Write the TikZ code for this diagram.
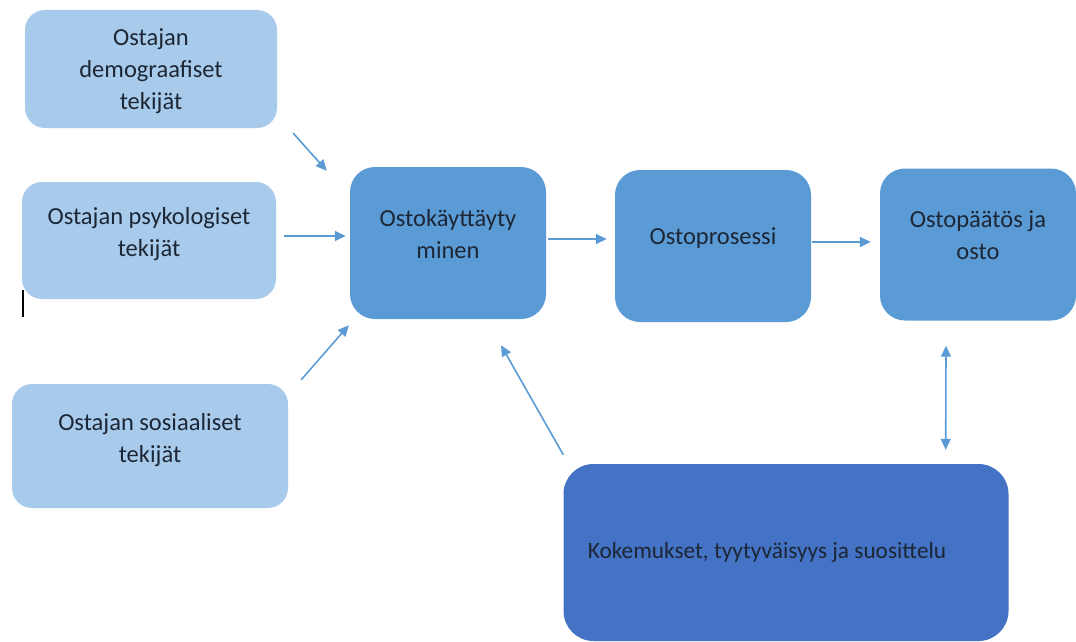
\documentclass[tikz,border=0pt]{standalone}
\usepackage{fontspec}
\setmainfont{Carlito}
\usepackage{tikz}
\usetikzlibrary{
        arrows.meta,
        positioning,
        shapes
    }
\definecolor{lightbox}{HTML}{A9CBEB}
\definecolor{midbox}{HTML}{5B9BD5}
\definecolor{darkbox}{HTML}{4472C4}
\definecolor{arrowblue}{HTML}{5B9BD5}
\definecolor{textdark}{HTML}{1C2635}
\tikzset{>={Triangle[length=11pt,width=10pt]},auto}
\tikzset{
    factor/.style={rectangle,rounded corners=20pt,fill=lightbox,align=center,
        text=textdark,font=\fontsize{24.5}{32}\selectfont,text depth=17pt},
    stage/.style={rectangle,rounded corners=25pt,fill=midbox,align=center,
        text=textdark,font=\fontsize{24.5}{32}\selectfont,text depth=19pt,
        minimum width=196pt,minimum height=152pt},
    result/.style={rectangle,rounded corners=30pt,fill=darkbox,align=center,
        text=textdark,font=\fontsize{23.3}{32}\selectfont},
    link/.style={color=arrowblue,line width=1.6pt}
}

\begin{document}
\begin{tikzpicture}[x=1pt,y=-1pt]
            \useasboundingbox (0,0) rectangle (1076,642);
            \node[factor,text depth=0pt,minimum width=252pt,minimum height=118pt] (demo) at (151,69)
                {Ostajan\\demograafiset\\tekijät};
            \node[factor,minimum width=254pt,minimum height=117pt] (psyk) at (149,240.5)
                {Ostajan psykologiset\\tekijät};
            \node[factor,minimum width=276pt,minimum height=124pt] (sos) at (150,446)
                {Ostajan sosiaaliset\\tekijät};
            \node[stage] (kaytos) at (448,243)   {Ostokäyttäyty\\minen};
            \node[stage] (prosessi) at (713,246) {Ostoprosessi};
            \node[stage] (paatos) at (978,244.5) {Ostopäätös ja\\osto};
            \node[result,minimum width=445pt,minimum height=177pt] (kokemus) at (786,552.5)
                {Kokemukset, tyytyväisyys ja suosittelu\hspace*{38pt}};
            \draw[link,->] ([shift={(16,5)}]demo.south east) -- ([shift={(-23,4)}]kaytos.north west);
            \draw[link,->] ([shift={(8,-4.5)}]psyk.east) -- ([shift={(-4,-7)}]kaytos.west);
            \draw[link,->] ([shift={(13,-4)}]sos.north east) -- ([shift={(-1,6)}]kaytos.south west);
            \draw[link,->] ([shift={(2,-4)}]kaytos.east) -- ([shift={(-8,-7)}]prosessi.west);
            \draw[link,->] ([shift={(1,-4)}]prosessi.east) -- ([shift={(-9,-2.5)}]paatos.west);
            \draw[link,->] ([shift={(0,-9)}]kokemus.north west) -- ([shift={(53,26)}]kaytos.south);
            \draw[link,<->] ([shift={(-32,25)}]paatos.south) -- ([shift={(-63,-14)}]kokemus.north east);
            % text cursor
            \draw[line width=2pt] (23,290) -- (23,317);
        \end{tikzpicture}
\end{document}
